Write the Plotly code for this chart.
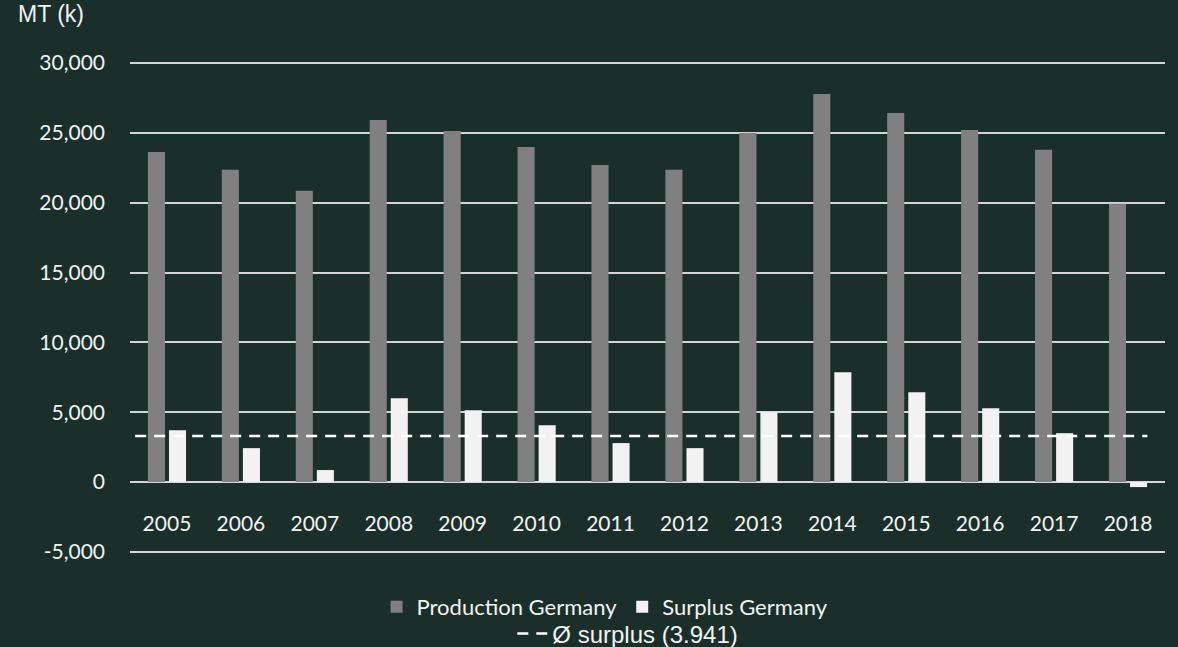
import plotly.graph_objects as go

years = ["2005", "2006", "2007", "2008", "2009", "2010", "2011",
         "2012", "2013", "2014", "2015", "2016", "2017", "2018"]
production = [23640, 22360, 20860, 25930, 25140, 24000, 22710,
              22360, 25000, 27790, 26430, 25210, 23790, 19930]
surplus = [3710, 2430, 860, 6000, 5140, 4070, 2790,
           2430, 5000, 7860, 6430, 5290, 3500, -360]
avg_line_value = 3300
avg_label = "Ø surplus (3.941)"
y_tickvals = [-5000, 0, 5000, 10000, 15000, 20000, 25000, 30000]
y_ticktext = ["-5,000", "0", "5,000", "10,000", "15,000", "20,000", "25,000", "30,000"]

BG = "#1a2f2a"
TXT = "#f2f2f2"
GRID = "#d4d4d4"
NUMFONT = "Lato"
ARIAL = "Liberation Sans"

Y0, Y1 = -5080, 30080

fig = go.Figure()
fig.add_trace(go.Bar(x=years, y=production, name="Production Germany",
                     marker=dict(color="#808080", line=dict(width=0)),
                     legend="legend"))
fig.add_trace(go.Bar(x=years, y=surplus, name="Surplus Germany",
                     marker=dict(color="#f2f2f2", line=dict(width=0)),
                     legend="legend"))

# edge gridlines (top and bottom ticks)
for v in (y_tickvals[0], y_tickvals[-1]):
    fig.add_shape(type="line", xref="paper", yref="y", x0=0, x1=1, y0=v, y1=v,
                  line=dict(color=GRID, width=2), layer="below")

fig.add_shape(type="line", xref="paper", yref="y", x0=0.005, x1=0.983,
              y0=avg_line_value, y1=avg_line_value,
              line=dict(color="#ffffff", width=2.5, dash="11px,8px"),
              layer="above", showlegend=True, name=avg_label, legend="legend2")

fig.add_annotation(text="MT (k)", xref="paper", yref="paper", x=-0.11, y=1.097,
                   xanchor="left", yanchor="middle", showarrow=False,
                   font=dict(family=ARIAL, size=23, color=TXT))

fig.update_layout(
    width=1178, height=647,
    paper_bgcolor=BG, plot_bgcolor=BG,
    margin=dict(l=130, r=13, t=62, b=94, autoexpand=False),
    barmode="group", bargap=0.43, bargroupgap=0.19,
    font=dict(family=NUMFONT, size=20, color=TXT),
    xaxis=dict(type="category", anchor="free", position=(0 - Y0) / (Y1 - Y0),
               showgrid=False, showline=False, zeroline=False, ticks="",
               ticklabelstandoff=27,
               tickfont=dict(family=NUMFONT, size=21, color=TXT)),
    yaxis=dict(range=[Y0, Y1], tickvals=y_tickvals, ticktext=y_ticktext,
               showgrid=True, gridcolor=GRID, gridwidth=2, zeroline=False,
               showline=False, ticks="", ticklabelstandoff=24,
               tickfont=dict(family=NUMFONT, size=21, color=TXT)),
    legend=dict(orientation="h", x=0.459, xanchor="center", y=-0.11, yanchor="middle",
                font=dict(family=NUMFONT, size=22, color=TXT),
                bgcolor="rgba(0,0,0,0)", traceorder="normal", itemsizing="constant"),
    legend2=dict(orientation="h", x=0.481, xanchor="center", y=-0.165, yanchor="middle",
                 font=dict(family=ARIAL, size=24, color=TXT),
                 bgcolor="rgba(0,0,0,0)"),
)

fig.write_html("out.html", config={"displayModeBar": False},
               post_script="document.body.style.margin='0';document.body.style.background='%s';" % BG)
